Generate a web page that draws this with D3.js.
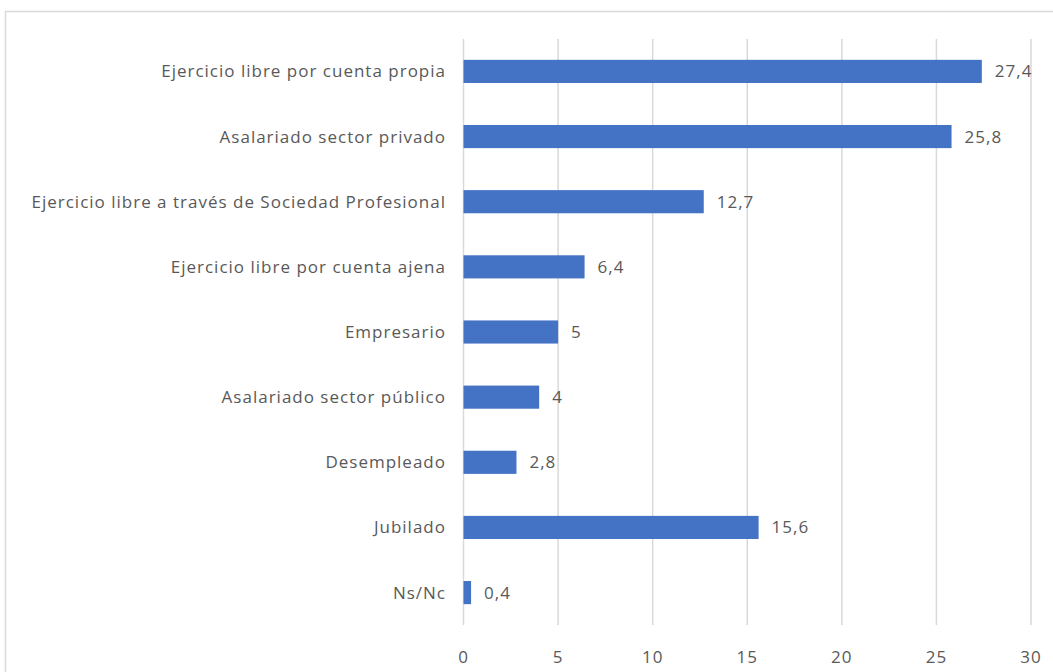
<!DOCTYPE html>
<html>
<head>
<meta charset="utf-8">
<title>Situación profesional</title>
<style>
  body { margin: 0; background: #fff; }
  svg text { font-family: "Open Sans", "Noto Sans", sans-serif; fill: #595959; letter-spacing: 1px; }
</style>
</head>
<body>
<svg width="1053" height="672"></svg>
<script src="https://cdn.jsdelivr.net/npm/d3@7/dist/d3.min.js"></script>
<script>
var categories = ["Ejercicio libre por cuenta propia", "Asalariado sector privado",
  "Ejercicio libre a través de Sociedad Profesional", "Ejercicio libre por cuenta ajena",
  "Empresario", "Asalariado sector público", "Desempleado", "Jubilado", "Ns/Nc"];
var values = [27.4, 25.8, 12.7, 6.4, 5, 4, 2.8, 15.6, 0.4];
var xTicks = [0, 5, 10, 15, 20, 25, 30];

var svg = d3.select("svg");

// chart area border
svg.append("rect")
  .attr("x", 5.5).attr("y", 11.5)
  .attr("width", 1060).attr("height", 700)
  .attr("fill", "none").attr("stroke", "#d9d9d9").attr("stroke-width", 1.5);

var x = d3.scaleLinear().domain([0, 30]).range([463.5, 1031]);
var y = d3.scaleBand().domain(categories).range([39, 625]).paddingInner(0.645).paddingOuter(0.32);

// gridlines
svg.append("g").selectAll("line")
  .data(xTicks)
  .enter().append("line")
  .attr("x1", function(d) { return x(d); })
  .attr("x2", function(d) { return x(d); })
  .attr("y1", 39).attr("y2", 625)
  .attr("stroke", "#d9d9d9").attr("stroke-width", 1.5);

// tick labels
svg.append("g").selectAll("text")
  .data(xTicks)
  .enter().append("text")
  .attr("x", function(d) { return x(d); })
  .attr("y", 663)
  .attr("text-anchor", "middle")
  .attr("font-size", 17)
  .text(function(d) { return d; });

// bars
svg.append("g").selectAll("rect")
  .data(values)
  .enter().append("rect")
  .attr("x", x(0))
  .attr("y", function(d, i) { return y(categories[i]); })
  .attr("width", function(d) { return x(d) - x(0); })
  .attr("height", y.bandwidth())
  .attr("fill", "#4472c4");

// category labels
svg.append("g").selectAll("text")
  .data(categories)
  .enter().append("text")
  .attr("x", 446)
  .attr("y", function(d) { return y(d) + y.bandwidth() / 2; })
  .attr("dy", "0.35em")
  .attr("text-anchor", "end")
  .attr("font-size", 17)
  .text(function(d) { return d; });

// value labels
svg.append("g").selectAll("text")
  .data(values)
  .enter().append("text")
  .attr("x", function(d) { return x(d) + 13; })
  .attr("y", function(d, i) { return y(categories[i]) + y.bandwidth() / 2; })
  .attr("dy", "0.35em")
  .attr("font-size", 17)
  .text(function(d) { return String(d).replace(".", ","); });
</script>
</body>
</html>
